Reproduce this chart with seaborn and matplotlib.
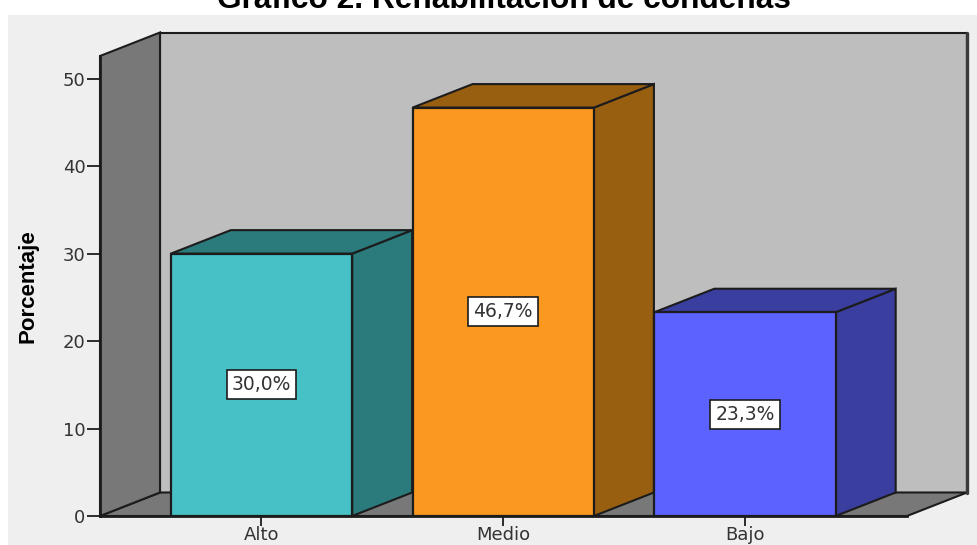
import pandas as pd
import seaborn as sns
import matplotlib.pyplot as plt
from matplotlib.patches import Polygon, Rectangle

niveles = ['Alto', 'Medio', 'Bajo']
porcentajes = [30.0, 46.7, 23.3]
etiquetas = ['30,0%', '46,7%', '23,3%']
yticks = [0, 10, 20, 30, 40, 50]
titulo = 'Gráfico 2. Rehabilitación de condenas'

color_frente = ['#48c1c6', '#fa981f', '#5c62ff']
color_lado = ['#2b7a7c', '#985f10', '#393e9f']

W, H = 977, 545
LINEA = '#1c1c1c'
TEXTO = '#333333'

sns.set_theme(style='white')
plt.rcParams['font.family'] = ['DejaVu Sans']

df = pd.DataFrame({'nivel': niveles, 'pct': porcentajes})

fig = plt.figure(figsize=(W / 100, H / 100), dpi=100, facecolor='white')
fig.patches.append(Rectangle((8 / W, 0), 1 - 8 / W, 1 - 15 / H, transform=fig.transFigure,
                             facecolor='#efefef', edgecolor='none', zorder=-10))
ax = fig.add_axes([100 / W, (H - 516) / H, 807 / W, 460 / H])
ax.patch.set_visible(False)

sns.barplot(data=df, x='nivel', y='pct', hue='nivel', order=niveles, hue_order=niveles,
            palette=color_frente, width=0.75, saturation=1, dodge=False, legend=False,
            edgecolor=LINEA, linewidth=1.6, ax=ax, zorder=5)
barras = sorted(ax.patches, key=lambda b: b.get_x())

ax.set_xlim(-0.668, 2.67)
ax.set_ylim(0, 52.6)

# profundidad del efecto 3D en unidades de datos
x0, x1 = ax.get_xlim()
y1 = ax.get_ylim()[1]
dx = 60 / 807 * (x1 - x0)
dy = 23.5 / 460 * y1


def cara(puntos, color, z, lw=1.5):
    ax.add_patch(Polygon(puntos, closed=True, facecolor=color, edgecolor=LINEA,
                         linewidth=lw, clip_on=False, zorder=z))


# pared del fondo, suelo y pared izquierda
cara([(x0 + dx, dy), (x1 + dx, dy), (x1 + dx, y1 + dy), (x0 + dx, y1 + dy)], '#bebebe', 1)
cara([(x0, 0), (x1, 0), (x1 + dx, dy), (x0 + dx, dy)], '#787878', 2)
cara([(x0, 0), (x0 + dx, dy), (x0 + dx, y1 + dy), (x0, y1)], '#787878', 3)
ax.plot([x1 + dx, x1 + dx], [dy, y1 + dy], color='#3a3a3a', lw=2.4, clip_on=False, zorder=2)

for b, lado in zip(barras, color_lado):
    izq, der, alto = b.get_x(), b.get_x() + b.get_width(), b.get_height()
    cara([(der, 0), (der + dx, dy), (der + dx, alto + dy), (der, alto)], lado, 4)
    cara([(izq, alto), (izq + dx, alto + dy), (der + dx, alto + dy), (der, alto)], lado, 4)

for i, (v, txt) in enumerate(zip(porcentajes, etiquetas)):
    ax.text(i, v / 2, txt, ha='center', va='center', fontsize=13.5, color=TEXTO, zorder=8,
            bbox=dict(boxstyle='square,pad=0.27', facecolor='white', edgecolor=LINEA, linewidth=1.2))

sns.despine(ax=ax)
for s in ['left', 'bottom']:
    ax.spines[s].set_linewidth(2)
    ax.spines[s].set_color(LINEA)
    ax.spines[s].set_zorder(6)

ax.set_yticks(yticks)
ax.tick_params(axis='y', left=True, length=9.5, width=1.3, color=LINEA, labelsize=13,
               labelcolor=TEXTO, pad=1)
ax.tick_params(axis='x', bottom=True, length=7, width=1.3, color=LINEA, labelsize=13,
               labelcolor=TEXTO, pad=0.5)
ax.set_xlabel('')
ax.set_ylabel('')

fig.text(28 / W, 1 - 286 / H, 'Porcentaje', rotation=90, ha='center', va='center',
         family='Liberation Sans', fontweight='bold', fontsize=16, color='black')
fig.text(504 / W, 1 - 8.5 / H, titulo, ha='center', va='baseline',
         family='Liberation Sans', fontweight='bold', fontsize=22.8, color='black')

fig.savefig('out.png', dpi=100)
